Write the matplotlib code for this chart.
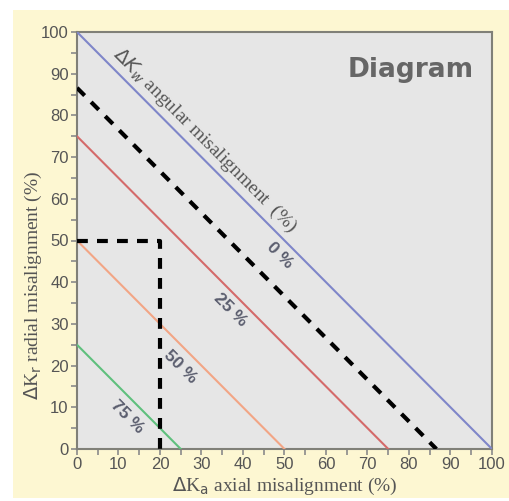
import numpy as np
import matplotlib.pyplot as plt
from matplotlib.patches import Rectangle
from matplotlib.ticker import MultipleLocator

# angular misalignment iso-lines: radial + axial = intercept
intercepts = [100, 75, 50, 25]
line_labels = ["0 %", "25 %", "50 %", "75 %"]
line_colors = ["#7f86c9", "#d46a6a", "#f2a585", "#5fc07d"]
# label centres (axial, radial) in data units
label_pos = [(48.9, 46.5), (36.9, 33.3), (24.8, 19.7), (12.0, 7.7)]

dashed_intercept = 86.6
example_point = (20, 50)

fig = plt.figure(figsize=(5.10, 5.01), dpi=100)
fig.patch.set_facecolor("white")
fig.patches.append(Rectangle((13 / 510, 3 / 501), 497 / 510, 488 / 501,
                             transform=fig.transFigure, facecolor="#fdf7d2",
                             edgecolor="none", zorder=-10))

ax = fig.add_axes([77 / 510, 52 / 501, 415 / 510, 417 / 501])
ax.set_zorder(5)
ax.set_facecolor("#e6e6e6")
ax.set_xlim(0, 100)
ax.set_ylim(0, 100)

for b, c in zip(intercepts, line_colors):
    ax.plot([0, b], [b, 0], color=c, lw=1.5, zorder=3)

ax.plot([0, dashed_intercept], [dashed_intercept, 0], color="black", lw=3,
        dashes=(2.6, 2.2), zorder=4)
ax.plot([0, example_point[0], example_point[0]],
        [example_point[1], example_point[1], 0], color="black", lw=3,
        dashes=(2.6, 2.2), zorder=4)

for (x, y), t in zip(label_pos, line_labels):
    ax.text(x, y, t, rotation=-45, ha="center", va="center", fontsize=12.5,
            fontweight="bold", color="#5a5d6e", family="Liberation Sans",
            rotation_mode="anchor", zorder=5)

ax.text(30.8, 74.0, r"$\Delta K_w$ angular misalignment  (%)", rotation=-45,
        ha="center", va="center", fontsize=14, color="#555555",
        family="Liberation Serif", rotation_mode="anchor", zorder=5)

ax.text(0.955, 0.91, "Diagram", transform=ax.transAxes, ha="right", va="center",
        fontsize=19, fontweight="bold", color="#666666", family="DejaVu Sans")

ax.xaxis.set_major_locator(MultipleLocator(10))
ax.yaxis.set_major_locator(MultipleLocator(10))
ax.xaxis.set_minor_locator(MultipleLocator(5))
ax.yaxis.set_minor_locator(MultipleLocator(5))
ax.tick_params(which="both", direction="out", length=4, width=1.2,
               color="#8a8a8a")
ax.tick_params(which="major", labelsize=12, labelcolor="#555555", pad=2)
for lab in ax.get_xticklabels() + ax.get_yticklabels():
    lab.set_family("Liberation Sans")

for s in ax.spines.values():
    s.set_color("#808078")
    s.set_linewidth(1.5)

fig.text(285 / 510, 1 - 486 / 501, r"$\Delta$K$_\mathrm{a}$ axial misalignment (%)",
         fontsize=14, family="Liberation Serif", color="#555555",
         ha="center", va="center")
fig.text(33 / 510, 1 - 285 / 501, r"$\Delta$K$_\mathrm{r}$ radial misalignment (%)",
         fontsize=14, family="Liberation Serif", color="#555555",
         ha="center", va="center", rotation=90)

fig.savefig("out.png", dpi=100)
